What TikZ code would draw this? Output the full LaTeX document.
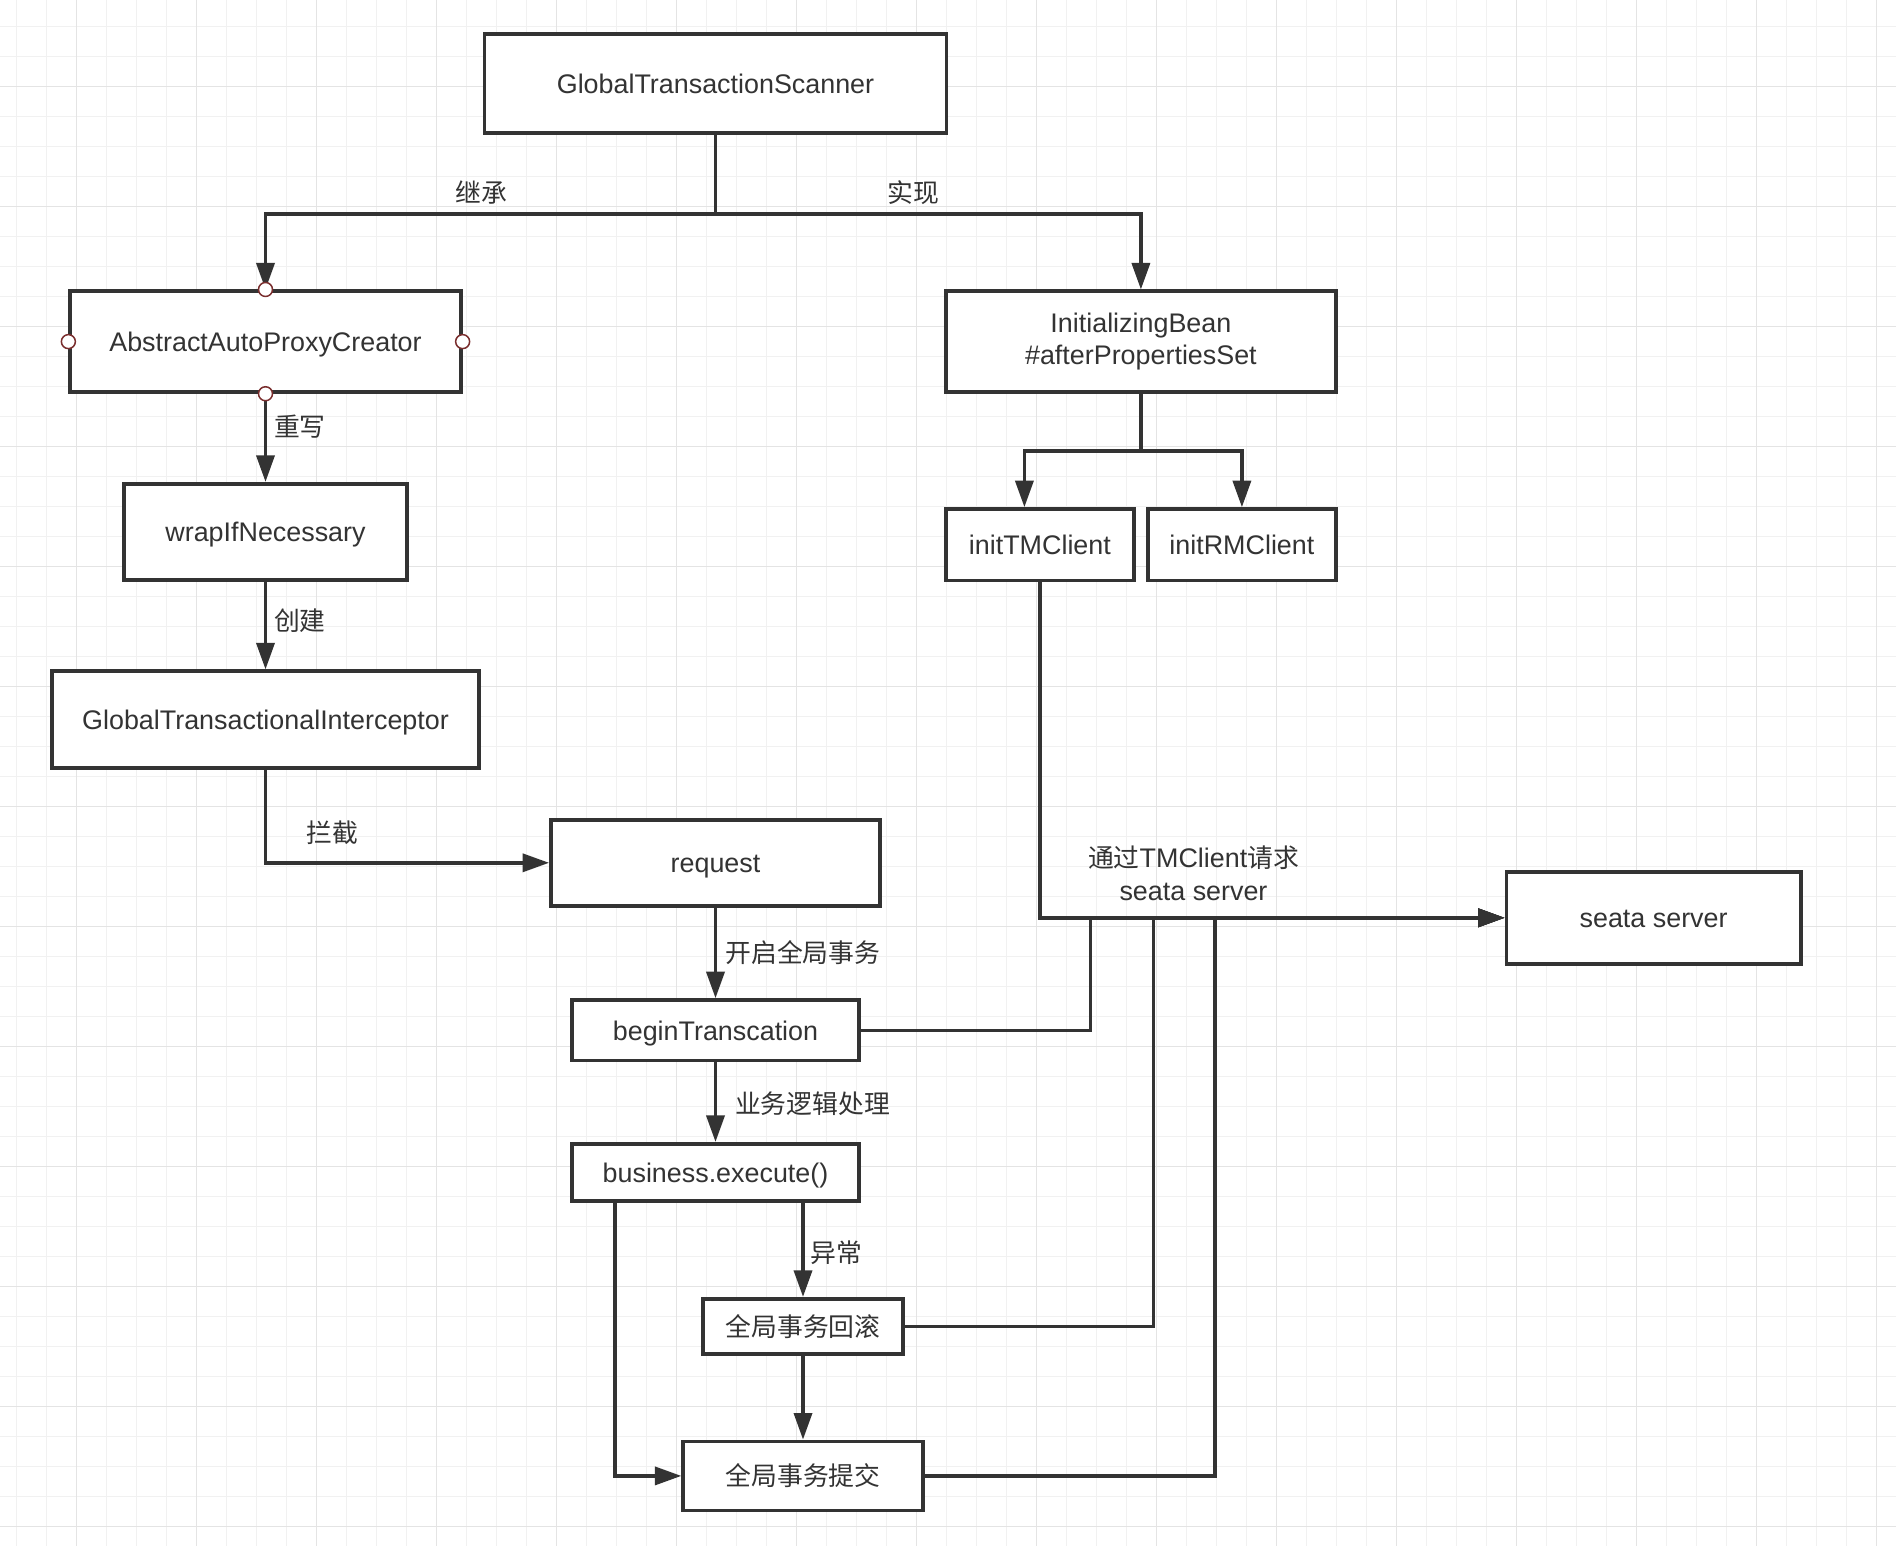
\documentclass[tikz,border=0pt]{standalone}
\usepackage{fontspec}
\setmainfont{Liberation Sans}
\newfontfamily\cjk[Scale=0.96]{Noto Sans CJK SC}
\usetikzlibrary{arrows.meta}

\definecolor{ink}{HTML}{333333}
\definecolor{gridminor}{HTML}{F1F1F1}
\definecolor{gridmajor}{HTML}{E4E4E4}
\definecolor{portred}{HTML}{7A2E2E}

\begin{document}
\begin{tikzpicture}[x=0.2mm, y=-0.2mm,
    box/.style={draw=ink, line width=0.75mm, fill=white, inner sep=0pt, text=ink, align=center,
      font=\fontsize{15.3}{18.6}\selectfont, text height=14.5pt, text depth=3.2pt},
    lbl/.style={inner sep=0pt, text=ink, align=center, font=\fontsize{15.3}{18.6}\selectfont},
    link/.style={draw=ink, line width=0.7mm},
    flow/.style={link, -{Triangle[length=5.3mm, width=3.6mm]}},
    port/.style={draw=portred, line width=0.3mm, fill=white}]

    % paper with grid
    \fill[white] (0,0) rectangle (1896,1546);
    \useasboundingbox (0,0) rectangle (1896,1546);
    \foreach \gx in {16.7,46.7,...,1896} \draw[gridminor, line width=0.2mm] (\gx,0) -- (\gx,1546);
    \foreach \gy in {26.7,56.7,...,1546} \draw[gridminor, line width=0.2mm] (0,\gy) -- (1896,\gy);
    \foreach \gx in {76.7,196.7,...,1896} \draw[gridmajor, line width=0.3mm] (\gx,0) -- (\gx,1546);
    \foreach \gy in {86.7,206.7,...,1546} \draw[gridmajor, line width=0.3mm] (0,\gy) -- (1896,\gy);

    % boxes
    \node[box, minimum width=92.4mm, minimum height=19.8mm] (scanner) at (715.5,83.5) {GlobalTransactionScanner};
    \node[box, minimum width=78.1mm, minimum height=20.1mm] (proxy) at (265.5,341.6) {AbstractAutoProxyCreator};
    \node[box, minimum width=56.6mm, minimum height=19.3mm] (wrap) at (265.5,532) {wrapIfNecessary};
    \node[box, minimum width=85.4mm, minimum height=19.3mm] (interceptor) at (265.5,719.5) {GlobalTransactionalInterceptor};
    \node[box, minimum width=65.8mm, minimum height=17.2mm] (request) at (715.5,862.8) {request};
    \node[box, minimum width=57.3mm, minimum height=12.1mm] (begin) at (715.5,1030.3) {beginTranscation};
    \node[box, minimum width=57.3mm, minimum height=11.4mm] (business) at (715.5,1172.3) {business.execute()};
    \node[box, minimum width=40.1mm, minimum height=11.1mm] (rollback) at (803,1326.5) {\cjk 全局事务回滚};
    \node[box, minimum width=47.9mm, minimum height=13.8mm] (commit) at (803,1475.9) {\cjk 全局事务提交};
    \node[box, minimum width=78.1mm, minimum height=20.1mm, text height={}, text depth={}] (bean) at (1140.9,341.6)
      {InitializingBean\\\#afterPropertiesSet};
    \node[box, minimum width=37.7mm, minimum height=14.3mm] (tmclient) at (1039.9,544.8) {initTMClient};
    \node[box, minimum width=37.7mm, minimum height=14.3mm] (rmclient) at (1241.9,544.8) {initRMClient};
    \node[box, minimum width=58.8mm, minimum height=18.4mm] (seata) at (1653.6,917.8) {seata server};

    % labels
    \node[lbl] (inherit) at (481.3,192.3) {\cjk 继承};
    \node[lbl] (implement) at (913,192.3) {\cjk 实现};
    \node[lbl] (override) at (299.9,426.9) {\cjk 重写};
    \node[lbl] (create) at (299.9,620.3) {\cjk 创建};
    \node[lbl] (intercept) at (332.5,833.1) {\cjk 拦截};
    \node[lbl] (open) at (802.9,952.9) {\cjk 开启全局事务};
    \node[lbl] (logic) at (812.6,1104) {\cjk 业务逻辑处理};
    \node[lbl] (except) at (836.8,1252.7) {\cjk 异常};
    \node[lbl] (viatm) at (1193.5,873.6) {{\cjk 通过}TMClient{\cjk 请求}\\seata server};

    % connectors
    \coordinate (split) at (715.5,214);
    \coordinate (fork) at (1140.9,451);
    \coordinate (busbegin) at (1090.7,917.8);
    \coordinate (busrollback) at (1153.6,917.8);
    \coordinate (buscommit) at (1215.2,917.8);

    \draw[link] (scanner.south) -- (split);
    \draw[flow] (split) -| (proxy.north);
    \draw[flow] (split) -| (bean.north);
    \draw[flow] (proxy.south) -- (wrap.north);
    \draw[flow] (wrap.south) -- (interceptor.north);
    \draw[flow] (interceptor.south) |- (request.west);
    \draw[flow] (request.south) -- (begin.north);
    \draw[flow] (begin.south) -- (business.north);
    \draw[flow] (business.south -| rollback.north) -- (rollback.north);
    \draw[flow] (rollback.south) -- (commit.north);
    \draw[flow] ([xshift=8.9mm]business.south west) |- (commit.west);

    \draw[link] (bean.south) -- (fork);
    \draw[flow] (fork) -| ([xshift=-3.1mm]tmclient.north);
    \draw[flow] (fork) -| (rmclient.north);
    \draw[flow] (tmclient.south) |- (seata.west);
    \draw[flow] (begin.east) -| (busbegin) -- (seata.west);
    \draw[flow] (rollback.east) -| (busrollback) -- (seata.west);
    \draw[flow] (commit.east) -| (buscommit) -- (seata.west);

    % connection points
    \foreach \side in {north,south,east,west}
      \draw[port] (proxy.\side) circle (1.4mm);
\end{tikzpicture}
\end{document}
